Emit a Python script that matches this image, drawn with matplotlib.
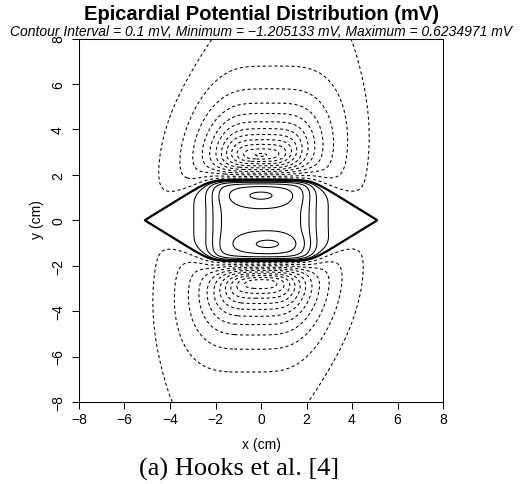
import numpy as np
import matplotlib
matplotlib.use("Agg")
import matplotlib.pyplot as plt

plt.rcParams['font.family'] = ['Liberation Sans', 'DejaVu Sans']

# ---- axis ticks ----
x_ticks = [-8, -6, -4, -2, 0, 2, 4, 6, 8]
y_ticks = [-8, -6, -4, -2, 0, 2, 4, 6, 8]

# ---- contour levels (mV) ----
neg_levels = [-1.2, -1.1, -1.0, -0.9, -0.8, -0.7, -0.6, -0.5, -0.4, -0.3, -0.2, -0.1]
zero_level = [0.0]
pos_levels = [0.1, 0.2, 0.3, 0.4, 0.5, 0.6]

# ---- potential-field description ----
# zero contour (positive region outline)
boundary_top = 1.78
boundary_bottom = 1.80
boundary_tip_x = 5.1
boundary_slope = 0.62
# negative lobes
lobe_x = [0.0, 0.0]
lobe_y = [2.85, -2.72]
lobe_amp = [1.22, 1.24]
lobe_core = 1.0
lobe_core_soft = 0.4
lobe_decay_x = 1.25
lobe_decay_y = 1.7
lobe_shear = 0.13
background_amp = 0.075
background_width = 3.8
background_gap = 2.5
outer_ramp = 0.6
# positive core
core_base = 0.07
core_amp = 0.40
core_halfwidth = 2.2
core_edge = 0.30
inner_ramp = 0.12
bump_x = [0.0, 0.3]
bump_y = [1.1, -1.05]
bump_amp = [0.15, 0.15]
bump_sx = 1.0
bump_sy = 0.33

title = "Epicardial Potential Distribution (mV)"
subtitle = "Contour Interval = 0.1 mV, Minimum = \u22121.205133 mV, Maximum = 0.6234971 mV"
caption = "(a) Hooks et al. [4]"

# ---- build field ----
gx = np.linspace(-8, 8, 481)
gy = np.linspace(-8, 8, 481)
X, Y = np.meshgrid(gx, gy)

e1 = np.where(Y >= 0, Y - boundary_top, -Y - boundary_bottom)
e2 = (np.abs(Y) + boundary_slope * np.abs(X) - boundary_slope * boundary_tip_x) / np.sqrt(1 + boundary_slope ** 2)
ks = 0.15
d = ks * np.logaddexp(e1 / ks, e2 / ks)

sx = 1.0 / (1.0 + np.exp((np.abs(X) - core_halfwidth) / core_edge))
P = core_base + core_amp * sx
for bx, by, ba in zip(bump_x, bump_y, bump_amp):
    P = P + ba * np.exp(-0.5 * ((X - bx) / bump_sx) ** 2 - 0.5 * ((Y - by) / bump_sy) ** 2)
V_in = P * (1.0 - np.exp(np.minimum(d, 0) / inner_ramp))

M = np.zeros_like(X)
for lx, ly, la in zip(lobe_x, lobe_y, lobe_amp):
    dx = X - lx - lobe_shear * (Y - ly)
    dy = Y - ly
    su = lobe_core_soft * np.logaddexp(0, (np.abs(dx) - lobe_core) / lobe_core_soft)
    r = np.sqrt((su / lobe_decay_x) ** 2 + (dy / lobe_decay_y) ** 2)
    M = M + la * np.exp(-r)
xb = X - lobe_shear * Y
M = M + background_amp * (1 - np.exp(-(Y / background_gap) ** 2)) / (1 + (xb / background_width) ** 6)
V_out = -M * np.tanh(np.maximum(d, 0) / outer_ramp)

V = np.where(d < 0, V_in, V_out)

# ---- figure ----
W, H = 522, 485
fig = plt.figure(figsize=(W / 100, H / 100), dpi=100)
ax = fig.add_axes([79 / W, 1 - 403 / H, 364 / W, 363.5 / H])

cs_neg = ax.contour(X, Y, V, levels=neg_levels, colors='black', linewidths=0.75)
cs_neg.set_linestyle((0, (3, 2.5)))
ax.contour(X, Y, V, levels=zero_level, colors='black', linewidths=1.6, linestyles='solid')
ax.contour(X, Y, V, levels=pos_levels, colors='black', linewidths=0.75, linestyles='solid')

ax.set_xlim(-8, 8)
ax.set_ylim(-8, 8)
ax.set_xticks(x_ticks)
ax.set_yticks(y_ticks)
ax.set_xticklabels([str(t).replace('-', '\u2212') for t in x_ticks])
ax.set_yticklabels([str(t).replace('-', '\u2212') for t in y_ticks], rotation=90, va='center')
ax.tick_params(direction='out', length=5, width=0.75, labelsize=10, color='black')
ax.tick_params(axis='x', pad=2)
ax.tick_params(axis='y', pad=5)
for s in ax.spines.values():
    s.set_linewidth(0.75)

fig.text(261 / W, 1 - 20 / H, title, ha='center', va='baseline', fontsize=14.5, fontweight='bold')
fig.text(261 / W, 1 - 36.5 / H, subtitle, ha='center', va='baseline', fontsize=10, style='italic')
fig.text(261 / W, 1 - 449 / H, "x (cm)", ha='center', va='baseline', fontsize=10)
fig.text(37.5 / W, 1 - 220 / H, "y (cm)", ha='center', va='center', rotation=90, fontsize=10)
fig.text(239 / W, 1 - 476 / H, caption, ha='center', va='baseline', fontsize=19,
         family=['Liberation Serif', 'DejaVu Serif'])

fig.savefig("out.png", dpi=100)
